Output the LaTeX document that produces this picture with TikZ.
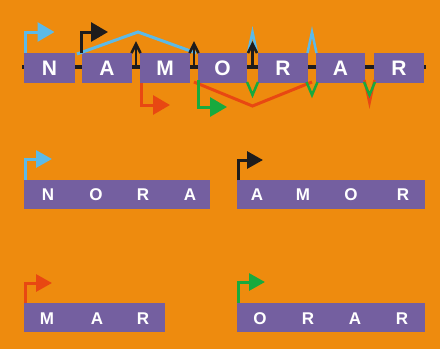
\documentclass[tikz,border=0pt]{standalone}
\usepackage{fontspec}
\setmainfont{Liberation Sans}
\usetikzlibrary{arrows.meta,calc}
\definecolor{bg}{RGB}{238,139,14}
\definecolor{pur}{RGB}{116,95,160}
\definecolor{cbl}{RGB}{92,186,232}
\definecolor{cbk}{RGB}{30,28,28}
\definecolor{crd}{RGB}{232,72,18}
\definecolor{cgr}{RGB}{24,170,62}
\tikzset{
  tbox/.style={fill=pur,draw=none,inner sep=0pt,outer sep=0pt,anchor=north west,
    minimum height=30pt,text=white,font=\fontsize{21}{21}\selectfont\bfseries},
  wbox/.style={fill=pur,draw=none,inner sep=0pt,outer sep=0pt,anchor=north west,minimum height=28.5pt},
  ltr/.style={text=white,inner sep=0pt,font=\fontsize{17}{17}\selectfont\bfseries},
  linker/.style={draw=cbk,line width=4pt},
  strand/.style={line width=3pt,line join=miter,line cap=butt},
  startarr/.style={strand,-{Triangle[length=17pt,width=19pt]}},
  smallarr/.style={strand,-{Triangle[length=16pt,width=17pt]}},
  chev/.style={line width=2.5pt,line join=miter,line cap=butt},
}
\begin{document}
\begin{tikzpicture}[x=1pt,y=-1pt]
\fill[bg] (0,0) rectangle (440,349);
\useasboundingbox (0,0) rectangle (440,349);

% ---------- top row: NAMORAR ----------
\node[tbox,minimum width=51pt] (t1) at (24,53) {N};
\node[tbox,minimum width=50pt] (t2) at (82,53) {A};
\node[tbox,minimum width=50pt] (t3) at (140,53) {M};
\node[tbox,minimum width=49pt] (t4) at (198,53) {O};
\node[tbox,minimum width=50pt] (t5) at (258,53) {R};
\node[tbox,minimum width=49pt] (t6) at (316,53) {A};
\node[tbox,minimum width=50pt] (t7) at (374,53) {R};

\coordinate (g1) at ($(t1.east)!0.5!(t2.west)$);
\coordinate (g2) at ($(t2.east)!0.5!(t3.west)$);
\coordinate (g3) at ($(t3.east)!0.5!(t4.west)$);
\coordinate (g4) at ($(t4.east)!0.5!(t5.west)$);
\coordinate (g5) at ($(t5.east)!0.5!(t6.west)$);
\coordinate (g6) at ($(t6.east)!0.5!(t7.west)$);

% linkers
\draw[linker] ($(t1.west)+(-2,-1)$) -- ($(t1.west)+(0,-1)$);
\draw[linker] ($(t1.east)+(0,-1)$) -- ($(t2.west)+(0,-1)$);
\draw[linker] ($(t2.east)+(0,-1)$) -- ($(t3.west)+(0,-1)$);
\draw[linker] ($(t3.east)+(0,-1)$) -- ($(t4.west)+(0,-1)$);
\draw[linker] ($(t4.east)+(0,-1)$) -- ($(t5.west)+(0,-1)$);
\draw[linker] ($(t5.east)+(0,-1)$) -- ($(t6.west)+(0,-1)$);
\draw[linker] ($(t6.east)+(0,-1)$) -- ($(t7.west)+(0,-1)$);
\draw[linker] ($(t7.east)+(0,-1)$) -- ($(t7.east)+(2,-1)$);

% red (MAR)
\draw[crd,strand] ($(g3)+(0,14)$) -- ($(g4)+(0,38)$) -- ($(g5)+(0,14)$);
\draw[crd,chev] ($(g6)+(-5,12)$) -- ($(g6)+(0,35)$) -- ($(g6)+(5,12)$);
\draw[crd,startarr] ($(t3.south west)+(1.5,0)$) -- ++(0,22) -- ++(28.5,0);

% green (ORAR)
\foreach \g in {g4,g5,g6}
  \draw[cgr,chev] ($(\g)+(-5.5,14)$) -- ($(\g)+(0,27)$) -- ($(\g)+(5.5,14)$);
\draw[cgr,startarr] ($(t4.south west)+(0.5,-3)$) -- ++(0,27) -- ++(28.5,0);

% blue (NORA)
\draw[cbl,strand] ($(t1.north east)+(2,1)$) -- ($(g2)+(2,-36)$) -- ($(t4.north west)+(-2,0)$);
\foreach \g in {g4,g5}
  \draw[cbl,chev] ($(\g)+(-4.5,-15)$) -- ($(\g)+(0,-36)$) -- ($(\g)+(4.5,-15)$);
\draw[cbl,startarr] ($(t1.north west)+(1.5,0)$) -- ++(0,-21) -- ++(29,0);

% black (AMOR)
\foreach \g in {g2,g3,g4}{
  \draw[cbk,line width=2.5pt] ($(\g)+(0,-23)$) -- ($(\g)+(0,0)$);
  \draw[cbk,chev] ($(\g)+(-4.5,-15)$) -- ($(\g)+(0,-24)$) -- ($(\g)+(4.5,-15)$);
}
\draw[cbk,startarr] ($(t2.north west)+(-0.5,0)$) -- ++(0,-21) -- ++(26.5,0);

% ---------- NORA ----------
\node[wbox,minimum width=186pt] (nora) at (24,180) {};
\node[ltr] (nora1) at (48,195) {N};
\node[ltr] (nora2) at (96,195) {O};
\node[ltr] (nora3) at (143,195) {R};
\node[ltr] (nora4) at (190,195) {A};
\draw[cbl,smallarr] ($(nora.north west)+(1.5,0)$) -- ++(0,-21) -- ++(26.5,0);

% ---------- AMOR ----------
\node[wbox,minimum width=188pt] (amor) at (237,180) {};
\node[ltr] (amor1) at (257,195) {A};
\node[ltr] (amor2) at (303,195) {M};
\node[ltr] (amor3) at (351,195) {O};
\node[ltr] (amor4) at (403,195) {R};
\draw[cbk,smallarr] ($(amor.north west)+(1.5,0)$) -- ++(0,-20) -- ++(24.5,0);

% ---------- MAR ----------
\node[wbox,minimum width=141pt] (mar) at (24,303) {};
\node[ltr] (mar1) at (47,318.5) {M};
\node[ltr] (mar2) at (97,318.5) {A};
\node[ltr] (mar3) at (143,318.5) {R};
\draw[crd,smallarr] ($(mar.north west)+(1.5,0)$) -- ++(0,-20) -- ++(26.5,0);

% ---------- ORAR ----------
\node[wbox,minimum width=188pt] (orar) at (237,303) {};
\node[ltr] (orar1) at (260,318.5) {O};
\node[ltr] (orar2) at (308,318.5) {R};
\node[ltr] (orar3) at (355,318.5) {A};
\node[ltr] (orar4) at (402,318.5) {R};
\draw[cgr,smallarr] ($(orar.north west)+(1.5,0)$) -- ++(0,-21) -- ++(26.5,0);
\end{tikzpicture}
\end{document}
